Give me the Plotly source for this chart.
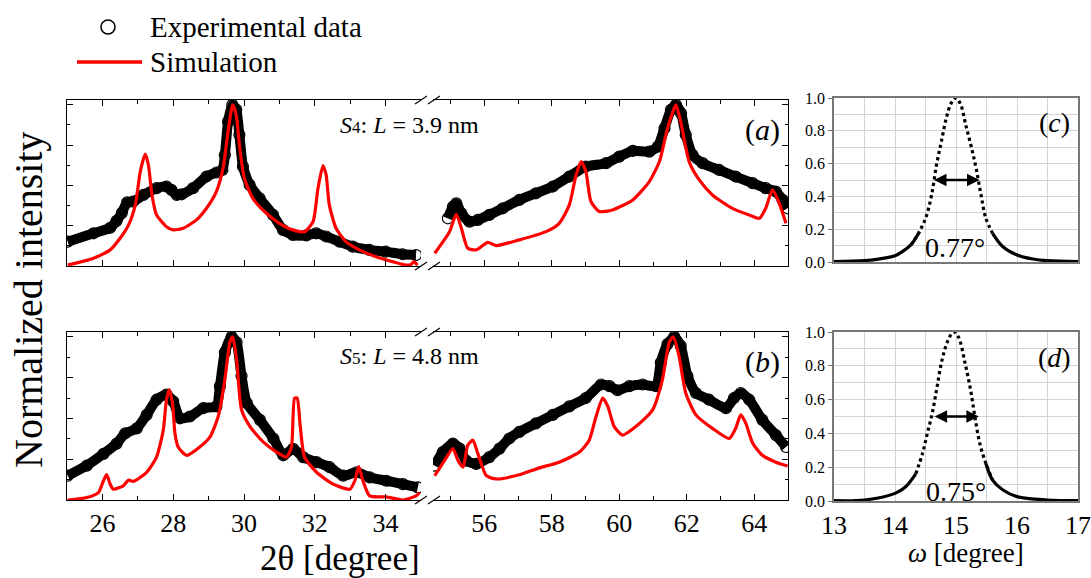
import plotly.graph_objects as go

# ---------------- data ----------------
# (a) S4, left window
a_exp_left_x = [25.02, 25.75, 26.22, 26.4, 26.55, 26.7, 26.87, 27.16, 27.53, 27.81, 27.95, 28.1, 28.24, 28.56, 28.94, 29.22, 29.39, 29.46, 29.55, 29.67, 29.78, 29.87, 29.97, 30.16, 30.44, 30.82, 31.1, 31.38, 31.76, 32.04, 32.32, 32.7, 33.07, 33.54, 34.0, 34.48, 34.86]
a_exp_left_y = [0.151, 0.203, 0.237, 0.28, 0.33, 0.395, 0.40, 0.441, 0.483, 0.493, 0.472, 0.441, 0.445, 0.483, 0.555, 0.58, 0.596, 0.689, 0.896, 1.0, 0.97, 0.814, 0.617, 0.503, 0.42, 0.317, 0.224, 0.193, 0.19, 0.203, 0.183, 0.151, 0.12, 0.10, 0.089, 0.073, 0.068]
a_sim_left_x = [25.02, 25.75, 26.22, 26.5, 26.74, 26.93, 27.07, 27.21, 27.3, 27.4, 27.53, 27.81, 28.0, 28.28, 28.66, 28.94, 29.22, 29.41, 29.55, 29.68, 29.78, 29.87, 30.01, 30.25, 30.63, 31.0, 31.38, 31.71, 31.95, 32.09, 32.23, 32.32, 32.41, 32.6, 32.88, 33.26, 33.73, 34.2, 34.57, 34.72, 34.8, 34.9]
a_sim_left_y = [0.006, 0.048, 0.10, 0.172, 0.255, 0.379, 0.586, 0.694, 0.627, 0.441, 0.317, 0.244, 0.224, 0.234, 0.286, 0.358, 0.462, 0.607, 0.834, 1.0, 0.938, 0.752, 0.545, 0.42, 0.327, 0.265, 0.224, 0.213, 0.275, 0.482, 0.623, 0.565, 0.379, 0.234, 0.151, 0.10, 0.058, 0.027, 0.006, 0.01, 0.027, 0.006]
# (a) S4, right window
a_exp_right_x = [54.92, 55.07, 55.17, 55.32, 55.56, 55.81, 56.15, 56.55, 57.04, 57.53, 58.03, 58.52, 59.01, 59.61, 60.0, 60.4, 60.89, 61.14, 61.34, 61.53, 61.68, 61.83, 61.97, 62.17, 62.47, 62.96, 63.45, 63.95, 64.34, 64.64, 64.84, 64.99]
a_exp_right_y = [0.296, 0.368, 0.389, 0.327, 0.275, 0.286, 0.317, 0.358, 0.41, 0.451, 0.493, 0.555, 0.617, 0.638, 0.679, 0.714, 0.71, 0.741, 0.855, 0.969, 1.0, 0.948, 0.814, 0.69, 0.638, 0.596, 0.555, 0.514, 0.483, 0.462, 0.41, 0.358]
a_sim_right_x = [54.53, 54.97, 55.17, 55.32, 55.51, 55.76, 56.10, 56.35, 57.04, 57.83, 58.22, 58.52, 58.72, 58.87, 59.01, 59.16, 59.41, 59.80, 60.40, 60.89, 61.19, 61.43, 61.63, 61.68, 61.82, 62.07, 62.37, 62.76, 63.35, 63.85, 64.15, 64.34, 64.54, 64.74, 64.94]
a_sim_right_y = [0.079, 0.213, 0.321, 0.234, 0.11, 0.10, 0.147, 0.127, 0.162, 0.213, 0.265, 0.379, 0.565, 0.648, 0.586, 0.40, 0.338, 0.348, 0.41, 0.524, 0.648, 0.855, 0.98, 1.0, 0.896, 0.648, 0.534, 0.441, 0.358, 0.317, 0.296, 0.358, 0.472, 0.389, 0.265]

# (b) S5, left window
b_exp_left_x = [25.02, 25.56, 26.03, 26.4, 26.64, 26.97, 27.25, 27.53, 27.81, 28.0, 28.19, 28.47, 28.85, 29.22, 29.32, 29.46, 29.65, 29.79, 29.93, 30.08, 30.45, 30.83, 31.11, 31.39, 31.67, 32.05, 32.42, 32.8, 33.18, 33.55, 34.02, 34.49, 34.91]
b_exp_left_y = [0.149, 0.211, 0.283, 0.346, 0.408, 0.439, 0.522, 0.615, 0.646, 0.605, 0.501, 0.512, 0.563, 0.574, 0.698, 0.905, 1.0, 0.967, 0.76, 0.594, 0.491, 0.377, 0.274, 0.314, 0.263, 0.232, 0.201, 0.149, 0.17, 0.139, 0.118, 0.097, 0.077]
b_sim_left_x = [25.02, 25.56, 25.89, 26.03, 26.12, 26.22, 26.31, 26.59, 26.74, 26.88, 27.25, 27.53, 27.72, 27.81, 27.89, 27.98, 28.05, 28.14, 28.38, 28.75, 29.04, 29.27, 29.46, 29.6, 29.68, 29.79, 29.93, 30.17, 30.54, 30.92, 31.2, 31.34, 31.43, 31.5, 31.59, 31.71, 32.05, 32.52, 32.99, 33.13, 33.24, 33.36, 33.55, 34.02, 34.49, 34.86, 34.96]
b_sim_left_y = [0.0, 0.015, 0.046, 0.118, 0.155, 0.097, 0.066, 0.087, 0.122, 0.114, 0.17, 0.263, 0.429, 0.615, 0.677, 0.594, 0.408, 0.325, 0.274, 0.325, 0.387, 0.511, 0.739, 0.967, 1.0, 0.864, 0.553, 0.45, 0.356, 0.294, 0.263, 0.325, 0.625, 0.625, 0.449, 0.263, 0.17, 0.097, 0.066, 0.118, 0.205, 0.118, 0.025, 0.019, 0.0, 0.025, 0.046]
# (b) S5, right window
b_exp_right_x = [54.53, 54.77, 55.07, 55.27, 55.46, 55.76, 56.15, 56.45, 56.74, 57.04, 57.53, 58.03, 58.52, 59.01, 59.46, 59.71, 59.95, 60.30, 60.69, 61.09, 61.23, 61.43, 61.63, 61.82, 62.02, 62.27, 62.66, 63.16, 63.40, 63.60, 63.85, 64.24, 64.64, 64.94]
b_exp_right_y = [0.211, 0.294, 0.346, 0.315, 0.242, 0.221, 0.263, 0.315, 0.377, 0.418, 0.47, 0.522, 0.574, 0.625, 0.708, 0.698, 0.673, 0.698, 0.708, 0.698, 0.843, 0.956, 1.0, 0.946, 0.76, 0.656, 0.615, 0.563, 0.625, 0.656, 0.615, 0.491, 0.398, 0.325]
b_sim_right_x = [54.53, 54.82, 55.07, 55.22, 55.37, 55.51, 55.66, 55.81, 56.06, 56.35, 57.04, 57.63, 58.22, 58.82, 59.11, 59.31, 59.51, 59.66, 59.85, 60.10, 60.49, 60.99, 61.28, 61.48, 61.60, 61.77, 61.97, 62.27, 62.76, 63.26, 63.45, 63.60, 63.75, 63.95, 64.24, 64.64, 64.99]
b_sim_right_y = [0.149, 0.242, 0.315, 0.242, 0.201, 0.336, 0.367, 0.284, 0.149, 0.129, 0.155, 0.197, 0.232, 0.294, 0.367, 0.511, 0.625, 0.574, 0.45, 0.398, 0.45, 0.553, 0.739, 0.967, 1.0, 0.884, 0.656, 0.522, 0.439, 0.377, 0.44, 0.522, 0.47, 0.35, 0.274, 0.232, 0.208]

# (c) rocking curve S4
c_x = [13.0, 13.5, 13.73, 14.0, 14.12, 14.26, 14.4, 14.51, 14.6, 14.68, 14.76, 14.84, 14.92, 15.0, 15.08, 15.16, 15.25, 15.33, 15.41, 15.49, 15.6, 15.77, 16.0, 16.26, 16.5, 17.0]
c_y = [0.003, 0.008, 0.018, 0.038, 0.063, 0.104, 0.185, 0.276, 0.409, 0.591, 0.734, 0.876, 0.967, 1.0, 0.957, 0.835, 0.703, 0.571, 0.409, 0.266, 0.175, 0.093, 0.043, 0.018, 0.008, 0.003]
# (d) rocking curve S5
d_x = [13.0, 13.5, 14.0, 14.17, 14.34, 14.45, 14.53, 14.61, 14.69, 14.77, 14.87, 14.96, 15.04, 15.15, 15.24, 15.31, 15.39, 15.49, 15.6, 15.77, 16.0, 16.5, 17.0]
d_y = [0.002, 0.006, 0.045, 0.083, 0.161, 0.28, 0.40, 0.518, 0.676, 0.833, 0.951, 1.0, 0.97, 0.813, 0.656, 0.498, 0.34, 0.222, 0.124, 0.065, 0.026, 0.006, 0.002]

fwhm_c = 0.77
fwhm_d = 0.75
omega_center = 15.0

left_ticks = [26, 28, 30, 32, 34]
right_ticks = [56, 58, 60, 62, 64]
omega_ticks = [13, 14, 15, 16, 17]
legend_labels = ["Experimental data", "Simulation"]

# ---------------- layout helpers ----------------
W, H = 1091, 578
FONT = "Liberation Serif"


def fx(p):
    return p / W


def fy(p):
    return 1 - p / H


dom_L = [fx(67), fx(421)]
dom_R = [fx(433), fx(788)]
dom_C = [fx(834), fx(1078)]
dom_a = [fy(266), fy(100)]
dom_b = [fy(500), fy(332)]
dom_c = [fy(262), fy(98)]
dom_d = [fy(501), fy(332)]

fig = go.Figure()

exp_style = dict(mode="lines+markers",
                 line=dict(color="black", width=10, shape="spline", smoothing=0.6),
                 marker=dict(symbol="circle-open", size=11, color="black", line=dict(width=1.2)),
                 showlegend=False, hoverinfo="skip", cliponaxis=True)
sim_style = dict(mode="lines", line=dict(color="#ff0000", width=3.2, shape="spline", smoothing=0.6),
                 showlegend=False, hoverinfo="skip")

panels = [
    (a_exp_left_x, a_exp_left_y, a_sim_left_x, a_sim_left_y, "x", "y"),
    (a_exp_right_x, a_exp_right_y, a_sim_right_x, a_sim_right_y, "x2", "y2"),
    (b_exp_left_x, b_exp_left_y, b_sim_left_x, b_sim_left_y, "x3", "y3"),
    (b_exp_right_x, b_exp_right_y, b_sim_right_x, b_sim_right_y, "x4", "y4"),
]
for ex, ey, sx, sy, xa, ya in panels:
    fig.add_trace(go.Scatter(x=ex, y=ey, xaxis=xa, yaxis=ya, name=legend_labels[0], **exp_style))
for ex, ey, sx, sy, xa, ya in panels:
    fig.add_trace(go.Scatter(x=sx, y=sy, xaxis=xa, yaxis=ya, name=legend_labels[1], **sim_style))


def rocking(xs, ys, xa, ya):
    # tails drawn solid, the steep central part appears dotted (discrete points)
    tail_l = [(x, y) for x, y in zip(xs, ys) if x <= omega_center and y <= 0.25]
    tail_r = [(x, y) for x, y in zip(xs, ys) if x >= omega_center and y <= 0.25]
    core = [(x, y) for x, y in zip(xs, ys) if y >= 0.1]
    for seg, dash in ((core, "dot"), (tail_l, "solid"), (tail_r, "solid")):
        fig.add_trace(go.Scatter(x=[p[0] for p in seg], y=[p[1] for p in seg], xaxis=xa, yaxis=ya,
                                 mode="lines", line=dict(color="black", width=3.2, dash=dash, shape="spline"),
                                 showlegend=False, hoverinfo="skip"))


rocking(c_x, c_y, "x5", "y5")
rocking(d_x, d_y, "x6", "y6")

# ---------------- axes ----------------
common_x = dict(showline=True, linecolor="black", linewidth=1, mirror="ticks", ticks="inside",
                ticklen=6, tickcolor="black", showgrid=False, zeroline=False,
                minor=dict(ticks="inside", ticklen=4, dtick=1, tickcolor="black"),
                tickfont=dict(family=FONT, size=26, color="black"))
common_y = dict(showline=True, linecolor="black", linewidth=1, ticks="inside", ticklen=6,
                tickcolor="black", showgrid=False, zeroline=False, range=[0, 1.03],
                tickmode="linear", tick0=0, dtick=0.25, showticklabels=False,
                minor=dict(ticks="inside", ticklen=3, dtick=0.125, tickcolor="black"))

fig.update_layout(
    xaxis=dict(domain=dom_L, anchor="y", range=[25, 35], tickvals=left_ticks, showticklabels=False, **common_x),
    yaxis=dict(domain=dom_a, anchor="x", side="left", **common_y),
    xaxis2=dict(domain=dom_R, anchor="y2", range=[54.48, 65], tickvals=right_ticks, showticklabels=False, **common_x),
    yaxis2=dict(domain=dom_a, anchor="x2", side="right", **common_y),
    xaxis3=dict(domain=dom_L, anchor="y3", range=[25, 35], tickvals=left_ticks, **common_x),
    yaxis3=dict(domain=dom_b, anchor="x3", side="left", **common_y),
    xaxis4=dict(domain=dom_R, anchor="y4", range=[54.48, 65], tickvals=right_ticks, **common_x),
    yaxis4=dict(domain=dom_b, anchor="x4", side="right", **common_y),
)

grid_x = dict(showline=True, linecolor="#777777", linewidth=1.5, mirror=True, range=[13, 17],
              tickvals=omega_ticks, showgrid=True, gridcolor="#d4d4d4", gridwidth=1, zeroline=False,
              ticks="", minor=dict(dtick=0.5, tick0=13, showgrid=True, gridcolor="#d4d4d4", gridwidth=1),
              tickfont=dict(family=FONT, size=26, color="black"))
grid_y = dict(showline=True, linecolor="#777777", linewidth=1.5, mirror=True, range=[0, 1.0],
              tickmode="linear", tick0=0, dtick=0.2, tickformat=".1f", showgrid=True,
              gridcolor="#d4d4d4", gridwidth=1, zeroline=False, ticks="outside", ticklen=4,
              tickcolor="#777777",
              minor=dict(dtick=0.1, showgrid=True, gridcolor="#d4d4d4", gridwidth=1),
              tickfont=dict(family=FONT, size=16, color="black"))

fig.update_layout(
    xaxis5=dict(domain=dom_C, anchor="y5", showticklabels=False, **grid_x),
    yaxis5=dict(domain=dom_c, anchor="x5", **grid_y),
    xaxis6=dict(domain=dom_C, anchor="y6", showticklabels=True, **grid_x),
    yaxis6=dict(domain=dom_d, anchor="x6", **grid_y),
)

# ---------------- axis breaks ----------------
shapes = []
for yline in (100, 266, 332, 500):
    for cx in (421, 434):
        shapes.append(dict(type="line", xref="paper", yref="paper",
                           x0=fx(cx - 6), y0=fy(yline + 4), x1=fx(cx + 6), y1=fy(yline - 4),
                           line=dict(color="black", width=1.2)))

# legend keys (drawn in paper space)
shapes.append(dict(type="circle", xref="paper", yref="paper", x0=fx(101), x1=fx(115), y0=fy(34), y1=fy(20),
                   line=dict(color="black", width=1.6)))
shapes.append(dict(type="line", xref="paper", yref="paper", x0=fx(77), x1=fx(142), y0=fy(62), y1=fy(62),
                   line=dict(color="#ff0000", width=3.5)))

# ---------------- annotations ----------------
ann = []


def txt(text, x, y, size, xanchor="center", **kw):
    ann.append(dict(text=text, x=fx(x), y=fy(y), xref="paper", yref="paper", showarrow=False,
                    xanchor=xanchor, yanchor="middle", font=dict(family=FONT, size=size, color="black"), **kw))


txt(legend_labels[0], 148, 27, 29, xanchor="left")
txt(legend_labels[1], 148, 62, 29, xanchor="left")
txt("<i>S</i><span style='font-size:17px'>4</span>: <i>L</i> = 3.9 nm", 338, 125, 24, xanchor="left")
txt("<i>S</i><span style='font-size:17px'>5</span>: <i>L</i> = 4.8 nm", 338, 356, 24, xanchor="left")
txt("(<i>a</i>)", 762, 130, 30)
txt("(<i>b</i>)", 762, 362, 30)
txt("(<i>c</i>)", 1054, 122, 28)
txt("(<i>d</i>)", 1054, 357, 28)
txt("0.77°", 955, 247, 28)
txt("0.75°", 956, 491, 28)
txt("Normalized intensity", 28, 300, 40, textangle=-90)
txt("2θ [degree]", 340, 558, 35)
txt("<i>ω</i> [degree]", 966, 553, 27)

for fw, xa, ya in ((fwhm_c, "x5", "y5"), (fwhm_d, "x6", "y6")):
    ann.append(dict(x=omega_center + fw / 2, y=0.5, ax=omega_center - fw / 2, ay=0.5,
                    xref=xa, yref=ya, axref=xa, ayref=ya, text="", showarrow=True,
                    arrowhead=2, arrowside="end+start", arrowsize=1, arrowwidth=2.5, arrowcolor="black"))

fig.update_layout(
    width=W, height=H, margin=dict(l=0, r=0, t=0, b=0, autoexpand=False),
    paper_bgcolor="white", plot_bgcolor="white",
    font=dict(family=FONT, color="black"),
    shapes=shapes, annotations=ann,
    showlegend=False,
)

# the page's default body margin would shift the fixed-size figure; remove it
fig.write_html("out.html", config={"displayModeBar": False},
               post_script="document.body.style.margin='0';document.body.style.overflow='hidden';")
